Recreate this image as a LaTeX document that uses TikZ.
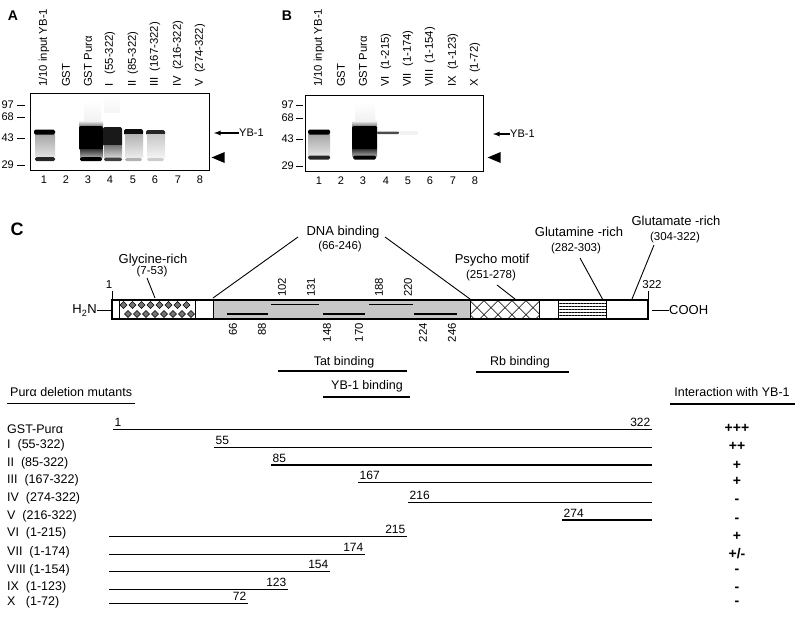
\documentclass[tikz,border=0pt]{standalone}
\usepackage{fontspec}
\setmainfont{Liberation Sans}
\usepackage{tikz}
\usetikzlibrary{shapes.geometric, arrows, positioning, calc, patterns.meta}

\begin{document}
\begin{tikzpicture}[
   x=1pt, y=-1pt,
   panel/.style = {inner sep=0pt, font=\fontsize{14}{16}\selectfont\bfseries},
   gel/.style = {draw, line width=1pt},
   band/.style = {fill=black, rounded corners=1.5pt},
   lanelbl/.style = {rotate=90, anchor=west, inner sep=0pt, font=\fontsize{11.3}{12}\selectfont},
   gelfont/.style = {inner sep=0pt, font=\fontsize{11}{12}\selectfont},
   tri/.style = {isosceles triangle, isosceles triangle stretches, shape border rotate=180, fill, inner sep=0pt, minimum height=13pt, minimum width=11pt},
   line/.style = {draw, -latex, line width=1.3pt},
   domlbl/.style = {inner sep=0pt, font=\fontsize{13}{15}\selectfont},
   rnglbl/.style = {inner sep=0pt, font=\fontsize{11.5}{13}\selectfont},
   resid/.style = {rotate=90, inner sep=0pt, font=\fontsize{11.3}{12}\selectfont},
   lead/.style = {draw, line width=0.9pt},
   seg/.style = {draw, line width=1.2pt},
   rowlbl/.style = {anchor=west, inner sep=0pt, font=\fontsize{12.5}{14}\selectfont},
   endlbl/.style = {inner sep=1.5pt, font=\fontsize{12}{14}\selectfont},
   score/.style = {inner sep=0pt, font=\fontsize{14}{15}\selectfont\bfseries}
   ]
  \useasboundingbox (0,0) rectangle (800,616);

  % Panel A
  \node[panel] (labA) at (13,16) {A};
  \node[lanelbl] (a1) at (44,87) {1/10 input YB-1};
  \node[lanelbl] (a2) at (66,87) {GST};
  \node[lanelbl] (a3) at (88,87) {GST Purα};
  \node[lanelbl] (a4) at (110,87) {I\ \ \ (55-322)};
  \node[lanelbl] (a5) at (133,87) {II\ \ (85-322)};
  \node[lanelbl] (a6) at (155,87) {III\ \ (167-322)};
  \node[lanelbl] (a7) at (178,87) {IV\ \ (216-322)};
  \node[lanelbl] (a8) at (200,87) {V\ \ (274-322)};

  % bands, lane by lane
  \shade[top color=black!35, bottom color=black!12] (35,134) rectangle (55,156);
  \fill[band] (34,129.5) rectangle (55,134.5);
  \fill[band, fill=black!85] (35,157) rectangle (55,161);
  \shade[top color=white, bottom color=black!6] (84,100) rectangle (101,124);
  \shade[top color=black!6, bottom color=black!60] (79,121) rectangle (103,127);
  \fill[band] (79,126) rectangle (103,150);
  \shade[top color=black!80, bottom color=black!35] (80,149) rectangle (103,157);
  \fill[band] (80,157) rectangle (102,161);
  \shade[top color=white, bottom color=black!4] (104,95) rectangle (120,112);
  \fill[band, fill=black!90] (103,127) rectangle (122,146);
  \shade[top color=black!55, bottom color=black!18] (104,145) rectangle (122,157);
  \fill[band, fill=black!75] (104,157.5) rectangle (122,161);
  \fill[band, fill=black!95] (124,129) rectangle (143,135);
  \shade[top color=black!30, bottom color=black!8] (125,134) rectangle (143,157);
  \fill[band, fill=black!30] (125,158) rectangle (142,161);
  \fill[band, fill=black!85] (146,130) rectangle (165,135);
  \shade[top color=black!22, bottom color=black!5] (147,134) rectangle (165,157);
  \fill[band, fill=black!20] (147,158) rectangle (164,161);
  \draw[gel] (30,93) rectangle (209,170);

  % size markers
  \node[gelfont, anchor=east] (mA97) at (14,105) {97};
  \node[gelfont, anchor=east] (mA68) at (14,117) {68};
  \node[gelfont, anchor=east] (mA43) at (14,138) {43};
  \node[gelfont, anchor=east] (mA29) at (14,165) {29};
  \draw[line width=1pt] (17,105) -- (25,105) (17,117) -- (25,117) (17,138) -- (25,138) (17,165) -- (25,165);

  \node[gelfont] (nA1) at (44,180) {1};
  \node[gelfont] (nA2) at (66,180) {2};
  \node[gelfont] (nA3) at (88,180) {3};
  \node[gelfont] (nA4) at (110,180) {4};
  \node[gelfont] (nA5) at (133,180) {5};
  \node[gelfont] (nA6) at (155,180) {6};
  \node[gelfont] (nA7) at (178,180) {7};
  \node[gelfont] (nA8) at (200,180) {8};

  \coordinate (ybAtip) at (214,133);
  \node[gelfont, anchor=west] (ybA) at (239,133) {YB-1};
  \draw[line] (ybA.west) -- (ybAtip);
  \node[tri] (triA) at (221,157.5) {};

  % Panel B
  \node[panel] (labB) at (287,16) {B};
  \node[lanelbl] (b1) at (319,87) {1/10 input YB-1};
  \node[lanelbl] (b2) at (341,87) {GST};
  \node[lanelbl] (b3) at (363,87) {GST Purα};
  \node[lanelbl] (b4) at (386,87) {VI\ \ (1-215)};
  \node[lanelbl] (b5) at (408,87) {VII\ \ (1-174)};
  \node[lanelbl] (b6) at (430,87) {VIII\ \ (1-154)};
  \node[lanelbl] (b7) at (453,87) {IX\ \ (1-123)};
  \node[lanelbl] (b8) at (475,87) {X\ \ (1-72)};

  \shade[top color=black!35, bottom color=black!12] (308,134) rectangle (330,155);
  \fill[band] (308,129.5) rectangle (330,134.5);
  \fill[band, fill=black!85] (308,155.5) rectangle (330,159.5);
  \shade[top color=white, bottom color=black!6] (355,103) rectangle (375,122);
  \shade[top color=black!6, bottom color=black!60] (352,121) rectangle (377,127);
  \fill[band] (352,126) rectangle (377,150);
  \shade[top color=black!80, bottom color=black!35] (352,149) rectangle (377,156);
  \fill[band] (353,155.5) rectangle (376,159.5);
  \fill[band, fill=black!70, rounded corners=0.8pt] (377,131.5) rectangle (399,134);
  \fill[black!5] (400,131) rectangle (418,135);
  \draw[gel] (305,95) rectangle (483,171);

  \node[gelfont, anchor=east] (mB97) at (294,105) {97};
  \node[gelfont, anchor=east] (mB68) at (294,118) {68};
  \node[gelfont, anchor=east] (mB43) at (294,139) {43};
  \node[gelfont, anchor=east] (mB29) at (294,166) {29};
  \draw[line width=1pt] (296,105) -- (303,105) (296,118) -- (303,118) (296,139) -- (303,139) (296,166) -- (303,166);

  \node[gelfont] (nB1) at (319,181) {1};
  \node[gelfont] (nB2) at (341,181) {2};
  \node[gelfont] (nB3) at (363,181) {3};
  \node[gelfont] (nB4) at (386,181) {4};
  \node[gelfont] (nB5) at (408,181) {5};
  \node[gelfont] (nB6) at (430,181) {6};
  \node[gelfont] (nB7) at (453,181) {7};
  \node[gelfont] (nB8) at (475,181) {8};

  \coordinate (ybBtip) at (493,134);
  \node[gelfont, anchor=west] (ybB) at (510,134) {YB-1};
  \draw[line] (ybB.west) -- (ybBtip);
  \node[tri] (triB) at (497,157.5) {};

  % Panel C: domain map
  \node[panel, font=\fontsize{18}{20}\selectfont\bfseries] (labC) at (17,229) {C};

  \fill[black!22] (213,300) rectangle (470,319);
  \foreach \i in {0,...,7} {
    \filldraw[fill=black!55, line width=0.4pt] (123.5+9*\i,301.5) -- ++(3.5,3.5) -- ++(-3.5,3.5) -- ++(-3.5,-3.5) -- cycle;
    \filldraw[fill=black!55, line width=0.4pt] (128+9*\i,310.5) -- ++(3.5,3.5) -- ++(-3.5,3.5) -- ++(-3.5,-3.5) -- cycle;
  }
  \fill[pattern={Lines[angle=45, distance=10.5pt, line width=0.8pt]}] (470,300) rectangle (539,319);
  \fill[pattern={Lines[angle=-45, distance=10.5pt, line width=0.8pt]}] (470,300) rectangle (539,319);
  \fill[pattern={Lines[angle=0, distance=3pt, line width=1pt]}] (558,301) rectangle (606,318);
  \draw[line width=1.1pt] (112,300) rectangle (648,319);
  \draw[line width=1pt] (119,300) -- (119,319) (195,300) -- (195,319) (213,300) -- (213,319)
    (470,300) -- (470,319) (539,300) -- (539,319) (558,300) -- (558,319) (606,300) -- (606,319);
  \draw[line width=1pt] (112,291) -- (112,300) (648,291) -- (648,300);

  % sub-regions inside DNA binding
  \draw[line width=2pt] (227,314.3) -- (268,314.3) (323,314.3) -- (365,314.3) (414,314.3) -- (457,314.3);
  \draw[line width=0.8pt] (271,304) -- (319,304) (369,304) -- (413,304);
  \node[resid, anchor=west] (r102) at (282,297) {102};
  \node[resid, anchor=west] (r131) at (311,297) {131};
  \node[resid, anchor=west] (r188) at (379,297) {188};
  \node[resid, anchor=west] (r220) at (408,297) {220};
  \node[resid, anchor=east] (r66) at (233,323) {66};
  \node[resid, anchor=east] (r88) at (262,323) {88};
  \node[resid, anchor=east] (r148) at (327,323) {148};
  \node[resid, anchor=east] (r170) at (359,323) {170};
  \node[resid, anchor=east] (r224) at (423,323) {224};
  \node[resid, anchor=east] (r246) at (452,323) {246};

  % ends
  \node[rnglbl] (one) at (109,285) {1};
  \node[rnglbl] (last) at (652,285) {322};
  \node[domlbl, anchor=east] (h2n) at (97,310.5) {H\textsubscript{2}N};
  \coordinate (nterm) at (112,310.5);
  \draw[lead] (h2n.east) -- (nterm);
  \node[domlbl, anchor=west] (cooh) at (669,310.5) {COOH};
  \coordinate (cterm) at (652,310.5);
  \draw[lead] (cterm) -- (cooh.west);

  % domain labels
  \node[domlbl] (gly) at (153,260) {Glycine-rich};
  \node[rnglbl] (glyr) at (152,272) {(7-53)};
  \node[domlbl] (dna) at (343,232) {DNA binding};
  \node[rnglbl] (dnar) at (340,247) {(66-246)};
  \node[domlbl] (psy) at (492,260) {Psycho motif};
  \node[rnglbl] (psyr) at (491,276) {(251-278)};
  \node[domlbl] (gln) at (579,232) {Glutamine -rich};
  \node[rnglbl] (glnr) at (576,249) {(282-303)};
  \node[domlbl] (glu) at (676,221) {Glutamate -rich};
  \node[rnglbl] (glur) at (675,238) {(304-322)};
  \coordinate (glyA) at (147,278);  \coordinate (glyB) at (155,298);
  \coordinate (dnaA) at (298,237);  \coordinate (dnaB) at (213,298);
  \coordinate (dnaC) at (385,237);  \coordinate (dnaD) at (470,299);
  \coordinate (psyA) at (497,285);  \coordinate (psyB) at (515,299);
  \coordinate (glnA) at (580,258);  \coordinate (glnB) at (603,300);
  \coordinate (gluA) at (654,245);  \coordinate (gluB) at (632,299);
  \draw[lead] (glyA) -- (glyB);
  \draw[lead] (dnaA) -- (dnaB);
  \draw[lead] (dnaC) -- (dnaD);
  \draw[lead] (psyA) -- (psyB);
  \draw[lead] (glnA) -- (glnB);
  \draw[lead] (gluA) -- (gluB);

  % binding regions
  \node[domlbl, font=\fontsize{12.5}{14}\selectfont] (tat) at (344,362) {Tat binding};
  \draw[seg] (278,371) -- (407,371);
  \node[domlbl, font=\fontsize{12.5}{14}\selectfont] (rb) at (520,362) {Rb binding};
  \draw[seg] (476,372) -- (569,372);
  \node[domlbl, font=\fontsize{12.5}{14}\selectfont] (yb) at (367,386) {YB-1 binding};
  \draw[seg] (323,397) -- (410,397);

  % deletion mutants
  \node[rowlbl] (mut) at (10,392) {Purα deletion mutants};
  \draw[seg] (7,403.5) -- (135,403.5);
  \node[rowlbl, anchor=center] (inter) at (732,392) {Interaction with YB-1};
  \draw[seg] (670,404) -- (795,404);

  \node[rowlbl] (m0) at (7,429) {GST-Purα};
  \node[rowlbl] (m1) at (7,445) {I\ \ (55-322)};
  \node[rowlbl] (m2) at (7,463) {II\ \ (85-322)};
  \node[rowlbl] (m3) at (7,480) {III\ \ (167-322)};
  \node[rowlbl] (m4) at (7,498) {IV\ \ (274-322)};
  \node[rowlbl] (m5) at (7,516) {V\ \ (216-322)};
  \node[rowlbl] (m6) at (7,533) {VI\ \ (1-215)};
  \node[rowlbl] (m7) at (7,552) {VII\ \ (1-174)};
  \node[rowlbl] (m8) at (7,570) {VIII (1-154)};
  \node[rowlbl] (m9) at (7,587) {IX\ \ (1-123)};
  \node[rowlbl] (m10) at (7,602) {X\ \ \ (1-72)};

  \draw[seg] (113,429.3) -- (652,429.3);
  \node[endlbl, anchor=south west] at (113,428) {1};
  \node[endlbl, anchor=south east] at (652,428) {322};
  \draw[seg] (214,447.7) -- (652,447.7);
  \node[endlbl, anchor=south west] at (214,446.5) {55};
  \draw[seg] (271,465) -- (652,465);
  \node[endlbl, anchor=south west] at (271,464) {85};
  \draw[seg] (358,482.7) -- (652,482.7);
  \node[endlbl, anchor=south west] at (358,481.5) {167};
  \draw[seg] (408,502.3) -- (652,502.3);
  \node[endlbl, anchor=south west] at (408,501) {216};
  \draw[seg] (562,520) -- (652,520);
  \node[endlbl, anchor=south west] at (562,519) {274};
  \draw[seg] (109,536.7) -- (407,536.7);
  \node[endlbl, anchor=south east] at (407,535.5) {215};
  \draw[seg] (109,554.3) -- (365,554.3);
  \node[endlbl, anchor=south east] at (365,553) {174};
  \draw[seg] (109,571.7) -- (330,571.7);
  \node[endlbl, anchor=south east] at (330,570.5) {154};
  \draw[seg] (109,589.3) -- (288,589.3);
  \node[endlbl, anchor=south east] at (288,588) {123};
  \draw[seg] (109,603.3) -- (248,603.3);
  \node[endlbl, anchor=south east] at (248,602) {72};

  % interaction scores
  \node[score] (s0) at (737,428.3) {+++};
  \node[score] (s1) at (737,446.7) {++};
  \node[score] (s2) at (737,465) {+};
  \node[score] (s3) at (737,481.7) {+};
  \node[score] (s4) at (737,501.7) {-};
  \node[score] (s5) at (737,520) {-};
  \node[score] (s6) at (737,536) {+};
  \node[score] (s7) at (737,553.3) {+/-};
  \node[score] (s8) at (737,571.7) {-};
  \node[score] (s9) at (737,589.3) {-};
  \node[score] (s10) at (737,603) {-};
\end{tikzpicture}
\end{document}
